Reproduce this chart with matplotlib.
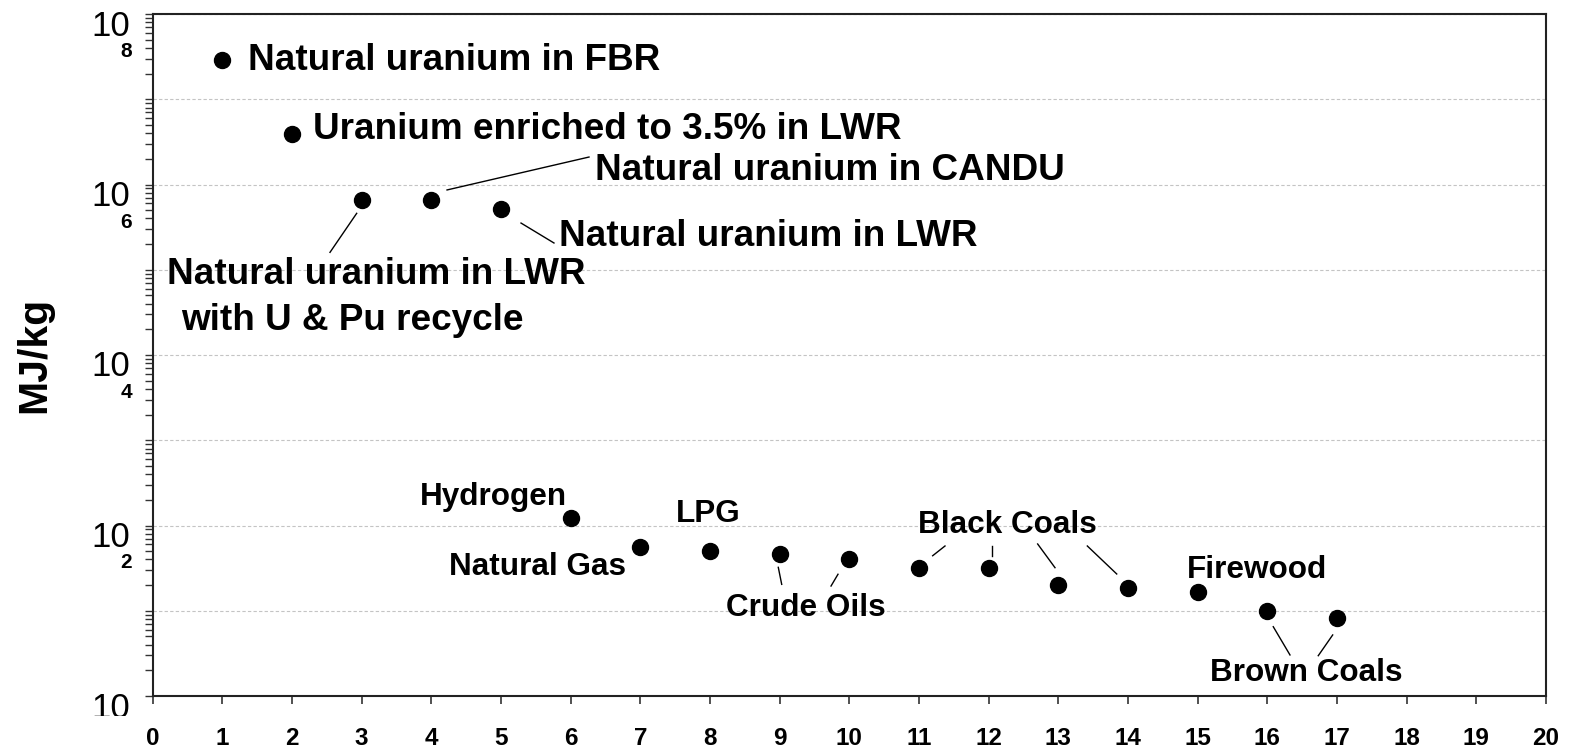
import matplotlib
matplotlib.use("Agg")
from matplotlib import pyplot as plt
from matplotlib import ticker, transforms

plt.rcParams['font.family'] = ['Liberation Sans', 'DejaVu Sans']

# energy content of fuels, MJ/kg
fuelNo = [1, 2, 3, 4, 5, 6, 7, 8, 9, 10, 11, 12, 13, 14, 15, 16, 17]
mjPerKg = [2.9e7, 3.9e6, 6.6e5, 6.6e5, 5.1e5, 121, 55.5, 50.2, 46.3, 40.5,
           31.5, 31.5, 20.0, 18.3, 16.5, 10.0, 8.3]

xTicks = list(range(0, 21))
yExponents = [0, 2, 4, 6, 8]

# label text, x, y (left edge / baseline)
bigLabels = [
    ("Natural uranium in FBR", 1.368, 2.2e7),
    ("Uranium enriched to 3.5% in LWR", 2.30, 3.42e6),
    ("Natural uranium in CANDU", 6.35, 1.13e6),
    ("Natural uranium in LWR", 5.83, 1.90e5),
    ("Natural uranium in LWR", 0.205, 6.8e4),
    ("with U & Pu recycle", 0.407, 1.97e4),
]
smallLabels = [
    ("Hydrogen", 3.84, 174),
    ("Natural Gas", 4.25, 26.3),
    ("LPG", 7.51, 110),
    ("Crude Oils", 8.23, 8.68),
    ("Black Coals", 10.985, 81.7),
    ("Firewood", 14.85, 24.2),
    ("Brown Coals", 15.18, 1.50),
]
# leader lines: (x0, x1), (y0, y1)
leaders = [
    ((4.225, 6.263), (8.63e5, 2.10e6)),
    ((5.287, 5.760), (3.53e5, 2.06e5)),
    ((2.928, 2.545), (4.59e5, 1.60e5)),
    ((8.980, 9.029), (32.3, 20.4)),
    ((9.837, 9.737), (26.8, 19.5)),
    ((11.373, 11.196), (57.5, 44.2)),
    ((12.052, 12.052), (57.5, 44.2)),
    ((12.703, 12.952), (60.7, 32.0)),
    ((13.416, 13.838), (57.5, 27.0)),
    ((16.085, 16.325), (6.50, 3.03)),
    ((16.938, 16.731), (5.20, 2.97)),
]

fig = plt.figure(figsize=(15.76, 7.5), dpi=100)
ax = fig.add_axes([152.7 / 1576, 54 / 750, 1393.3 / 1576, 682 / 750])

ax.set_yscale('log')
ax.set_xlim(0, 20)
ax.set_ylim(1, 1e8)

ax.plot(fuelNo, mjPerKg, 'o', color='black', markersize=11.5, zorder=3)

for txt, x, y in bigLabels:
    ax.text(x, y, txt, fontsize=26.6, fontweight='bold', ha='left', va='baseline')
for txt, x, y in smallLabels:
    ax.text(x, y, txt, fontsize=22.7, fontweight='bold', ha='left', va='baseline')
for xs, ys in leaders:
    ax.plot(xs, ys, color='black', lw=1.0)

# axes styling
ax.set_xticks(xTicks)
ax.set_xticklabels([str(t) for t in xTicks], fontsize=17.5, fontweight='bold')
ax.tick_params(axis='x', direction='out', length=6, width=1.2, color='#333333', pad=16)

ax.yaxis.set_major_locator(ticker.LogLocator(base=10, numticks=20))
ax.yaxis.set_minor_locator(ticker.LogLocator(base=10, subs=range(2, 10), numticks=20))
ax.yaxis.set_minor_formatter(ticker.NullFormatter())
ax.tick_params(axis='y', which='both', direction='out', length=5.5, width=1.0,
               color='#333333', labelleft=False)
ax.grid(axis='y', which='major', color='#c4c4c4', linestyle=(0, (3, 2)), lw=0.8)

for sp in ax.spines.values():
    sp.set_linewidth(1.5)
    sp.set_color('#222222')

# y tick labels as "10" with the exponent set below it
clip = transforms.Bbox.from_extents(0, 34, 200, 750)
baseT = ax.get_yaxis_transform()
for e in yExponents:
    t1 = ax.text(0, 10.0 ** e, "10", fontsize=25, ha='right', va='baseline',
                 transform=transforms.offset_copy(baseT, fig=fig, x=-22.7, y=-21.5, units='dots'))
    t2 = ax.text(0, 10.0 ** e, str(e), fontsize=15, fontweight='bold', ha='right', va='baseline',
                 transform=transforms.offset_copy(baseT, fig=fig, x=-20.7, y=-43, units='dots'))
    for t in (t1, t2):
        t.set_clip_on(True)
        t.set_clip_box(clip)

fig.text(34 / 1576, 1 - 355 / 750, "MJ/kg", fontsize=29.5, fontweight='bold',
         rotation=90, ha='center', va='center')

fig.savefig("out.png", dpi=100)
